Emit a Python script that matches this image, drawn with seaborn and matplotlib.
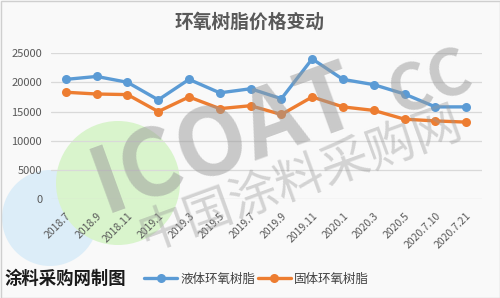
import matplotlib
matplotlib.use("Agg")
import matplotlib.pyplot as plt
import seaborn as sns
import pandas as pd
from matplotlib.patches import Circle

dates = ["2018.7", "2018.9", "2018.11", "2019.1", "2019.3", "2019.5", "2019.7",
         "2019.9", "2019.11", "2020.1", "2020.3", "2020.5", "2020.7.10", "2020.7.21"]
liquid = [20500, 21000, 20000, 17000, 20500, 18200, 18900, 17200, 24000, 20500,
          19600, 18000, 15800, 15800]
solid = [18300, 18000, 17900, 15000, 17500, 15500, 16000, 14500, 17500, 15800,
         15200, 13700, 13400, 13200]
series_names = ["液体环氧树脂", "固体环氧树脂"]
title = "环氧树脂价格变动"
source = "涂料采购网制图"
yticks = [0, 5000, 10000, 15000, 20000, 25000]

sns.set_theme(style="white")
plt.rcParams['font.family'] = ['Noto Sans CJK SC', 'DejaVu Sans']

df = pd.concat([
    pd.DataFrame({"pos": range(len(dates)), "value": liquid, "series": series_names[0]}),
    pd.DataFrame({"pos": range(len(dates)), "value": solid, "series": series_names[1]}),
])

fig = plt.figure(figsize=(5, 2.98), dpi=100)
fig.patch.set_facecolor("#f9f9f9")

# watermark circles (background)
bg = fig.add_axes([0, 0, 1, 1], zorder=0)
bg.set_xlim(0, 500)
bg.set_ylim(298, 0)
bg.axis("off")
bg.add_patch(Circle((50, 218), 48, color="#dcedf8", lw=0))
bg.add_patch(Circle((118, 183), 62, color="#d9f4cc", lw=0))
bg.add_patch(plt.Rectangle((0.5, 0.5), 499, 297, fill=False, ec="#cfcfcf", lw=1))

ax = fig.add_axes([0.101, 0.331, 0.862, 0.491], zorder=2)
ax.patch.set_alpha(0)
palette = {series_names[0]: "#5b9bd5", series_names[1]: "#ed7d31"}
sns.lineplot(data=df, x="pos", y="value", hue="series", palette=palette, marker="o",
             markersize=6.5, markeredgewidth=0, linewidth=2.4, sort=False, ax=ax,
             legend=True, zorder=5)

ax.set_xlim(-0.5, len(dates) - 0.5)
ax.set_ylim(0, 25000)
ax.set_yticks(yticks)
ax.set_yticklabels([str(v) for v in yticks], fontsize=8, color="#595959")
ax.set_xticks(range(len(dates)))
ax.set_xticklabels(dates, rotation=45, ha="right", rotation_mode="anchor",
                   fontsize=7.5, color="#595959")
ax.tick_params(axis="both", length=0, pad=6)
ax.tick_params(axis="x", pad=8)
ax.grid(axis="y", color="#d9d9d9", linewidth=0.9)
ax.set_axisbelow(True)
for s in ax.spines.values():
    s.set_visible(False)
ax.set_xlabel("")
ax.set_ylabel("")

handles, labels = ax.get_legend_handles_labels()
ax.legend(handles, labels, loc="center left", bbox_to_anchor=(133 / 500, 1 - 279 / 298),
          bbox_transform=fig.transFigure, ncol=2, frameon=False, handlelength=2.6,
          columnspacing=0.2, handletextpad=0.3, fontsize=9,
          labelcolor="#404040")

fig.text(0.5, 1 - 22 / 298, title, ha="center", va="center", fontsize=13.5,
         fontweight="bold", color="#595959")
fig.text(5 / 500, 1 - 279 / 298, source, ha="left", va="center", fontsize=12.5,
         fontweight="bold", color="#1a1a1a")

# watermark text (overlay)
fig.text(0.45, 0.53, "ICOAT", ha="center", va="center", fontsize=66, fontweight="bold",
         color="#999999", alpha=0.5, rotation=20, zorder=3)
fig.text(0.86, 0.72, "CC", ha="center", va="center", fontsize=46, fontweight="bold",
         color="#999999", alpha=0.5, rotation=20, zorder=3)
fig.text(0.60, 0.40, "中国涂料采购网", ha="center", va="center", fontsize=35,
         color="#999999", alpha=0.4, rotation=20, zorder=3)

fig.savefig("out.png", dpi=100, facecolor=fig.get_facecolor())
